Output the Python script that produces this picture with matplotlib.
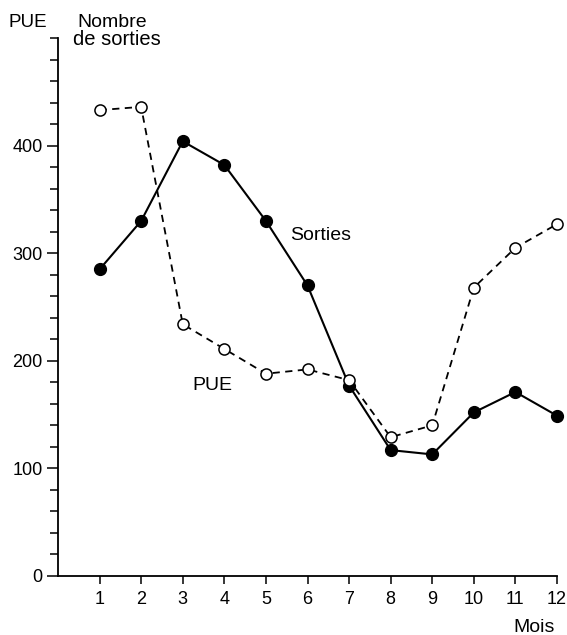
import matplotlib
matplotlib.use("Agg")
import matplotlib.pyplot as plt
from matplotlib.ticker import MultipleLocator

# Monthly data
months = [1, 2, 3, 4, 5, 6, 7, 8, 9, 10, 11, 12]
sorties = [285, 330, 404, 382, 330, 270, 177, 117, 113, 152, 171, 149]
pue = [433, 436, 234, 211, 188, 192, 182, 129, 140, 268, 305, 327]
y_major = [0, 100, 200, 300, 400]

W, H = 567, 635
fig = plt.figure(figsize=(W / 100, H / 100), dpi=100)
plt.rcParams['font.family'] = ['Liberation Sans', 'DejaVu Sans']

ax = fig.add_axes([58 / W, 1 - 576 / H, (557 - 58) / W, (576 - 38) / H])
ax.set_xlim(0, 12)
ax.set_ylim(0, 500)

# Sorties: solid line with filled circles
ax.plot(months, sorties, color='black', lw=1.5, marker='o', ms=8.5,
        mfc='black', mec='black', clip_on=False, zorder=3)
# PUE: dashed line with open circles
ax.plot(months, pue, color='black', lw=1.3, ls=(0, (4, 3)), marker='o', ms=8,
        mfc='white', mec='black', mew=1.1, clip_on=False, zorder=4)

for side in ['top', 'right']:
    ax.spines[side].set_visible(False)
for side in ['left', 'bottom']:
    ax.spines[side].set_linewidth(1.3)

ax.set_xticks(months)
ax.set_xticklabels([str(m) for m in months], fontsize=13)
ax.set_yticks(y_major)
ax.set_yticklabels([str(v) for v in y_major], fontsize=13)
ax.yaxis.set_minor_locator(MultipleLocator(20))
ax.tick_params(axis='y', which='major', direction='out', length=8, width=1.1, pad=3)
ax.tick_params(axis='y', which='minor', direction='out', length=5.5, width=1.1)
ax.tick_params(axis='x', which='major', direction='out', length=6, width=1.1, pad=5)

def px(x, y):
    return x / W, 1 - y / H

fig.text(*px(290, 240), 'Sorties', fontsize=14, ha='left', va='baseline')
fig.text(*px(232, 390), 'PUE', fontsize=14, ha='right', va='baseline')

fig.text(*px(9, 27), 'PUE', fontsize=13.5, ha='left', va='baseline')
fig.text(*px(77, 27), 'Nombre', fontsize=14, ha='left', va='baseline')
fig.text(*px(73, 45), 'de sorties', fontsize=14.5, ha='left', va='baseline')
fig.text(*px(534, 632), 'Mois', fontsize=14, ha='center', va='baseline')

fig.savefig('out.png', dpi=100)
